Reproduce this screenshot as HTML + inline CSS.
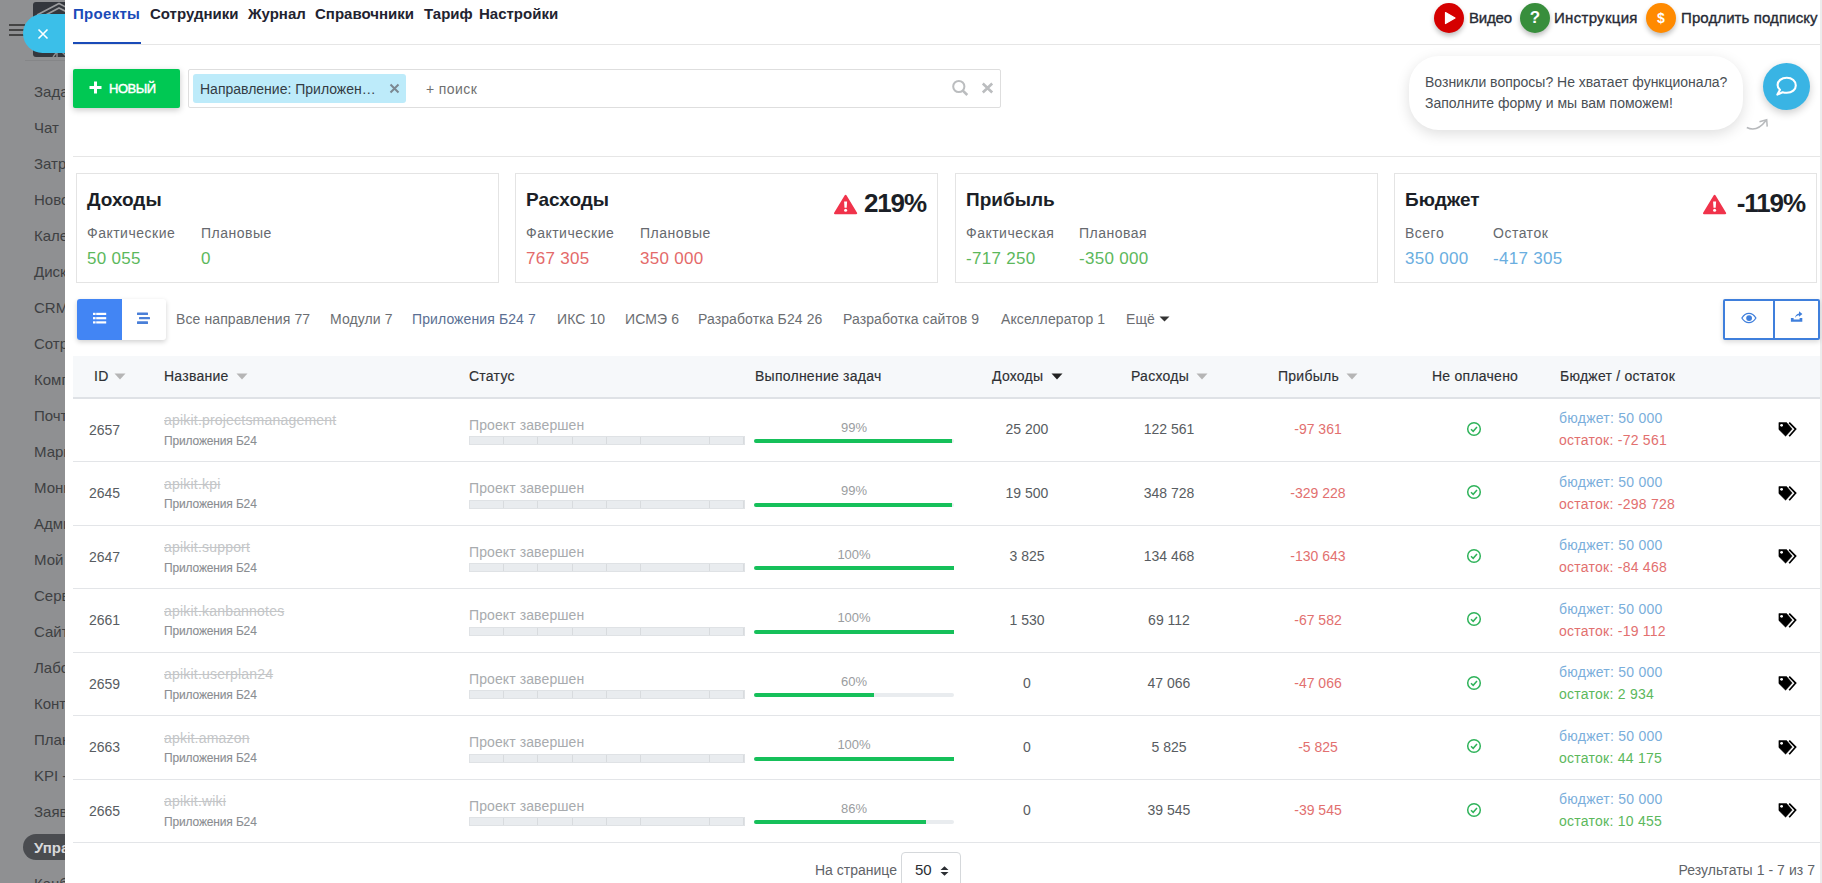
<!DOCTYPE html>
<html><head><meta charset="utf-8">
<style>
*{box-sizing:border-box;margin:0;padding:0}
html,body{width:1822px;height:883px;overflow:hidden;background:#fff;font-family:"Liberation Sans",sans-serif;color:#333}
.abs{position:absolute}
#side{position:absolute;left:0;top:0;width:65px;height:883px;background:#8f9092;overflow:hidden}
#side .it{position:absolute;margin-top:1px;left:34px;font-size:15px;color:#3e4042;white-space:nowrap;line-height:18px}
#panel{position:absolute;left:65px;top:0;width:1757px;height:883px;background:#fff}
#rstrip{position:absolute;left:1820px;top:0;width:2px;height:883px;background:#eceded}
.hr{position:absolute;top:8.5px;font-size:15px;-webkit-text-stroke:0.35px #262a35;color:#262a35;white-space:nowrap;line-height:18px}
.card{position:absolute;top:173px;width:423px;height:110px;border:1px solid #e4e4e4;background:#fff}
.ct{position:absolute;top:189px;font-size:19px;font-weight:bold;color:#1b1f27;line-height:22px;white-space:nowrap}
.cl{position:absolute;top:225px;font-size:14px;color:#66696e;line-height:17px;letter-spacing:0.5px;white-space:nowrap}
.cv{position:absolute;top:249px;font-size:17px;line-height:20px;letter-spacing:0.3px;white-space:nowrap}
.cp{position:absolute;top:189px;font-size:26px;font-weight:bold;color:#1b1f27;line-height:29px;letter-spacing:-1.1px;white-space:nowrap}
.tab{position:absolute;top:311px;font-size:14px;color:#6b6e72;line-height:17px;white-space:nowrap;letter-spacing:0.1px}
.th{position:absolute;top:368px;font-size:14px;color:#2e3034;line-height:17px;white-space:nowrap;-webkit-text-stroke:0.15px #2e3034;letter-spacing:0.25px}
.td{position:absolute;font-size:14px;color:#585c61;line-height:17px;white-space:nowrap}
.nm{position:absolute;margin-top:-1px;font-size:14px;color:#c4c6c8;letter-spacing:0.2px;line-height:17px;white-space:nowrap;text-decoration:line-through}
.ap{position:absolute;font-size:12px;color:#8a8d91;line-height:14px;white-space:nowrap;-webkit-text-stroke:0.1px #8a8d91;letter-spacing:-0.15px}
.st{position:absolute;font-size:14px;color:#a8abae;margin-top:-1px;line-height:17px;white-space:nowrap;letter-spacing:0.1px}
.sb{position:absolute;left:469px;width:276px;height:9px;border:1px solid #dfe2e5;background:repeating-linear-gradient(90deg,#e9ecef 0,#e9ecef 33.25px,#d8dbde 33.25px,#d8dbde 34.25px)}
.pc{position:absolute;left:754px;width:200px;text-align:center;font-size:13px;color:#9a9da0;line-height:16px}
.pb0{position:absolute;left:754px;width:200px;height:4px;border-radius:2px;background:#e9ecef}
.pb{position:absolute;left:754px;height:4px;border-radius:2px 0 0 2px;background:#16c05a}
.vc{position:absolute;width:100px;text-align:center;font-size:14px;color:#585c61;line-height:17px;white-space:nowrap}
.bd{position:absolute;left:1559px;font-size:14px;line-height:17px;white-space:nowrap;letter-spacing:0.25px}
.nav{position:absolute;top:4px;font-size:15px;font-weight:bold;color:#222330;white-space:nowrap;line-height:20px}
</style></head>
<body>
<div id="side">
  <div class="abs" style="left:33px;top:2px;width:40px;height:55px;background:#34373d;border-radius:3px"></div>
  <svg class="abs" style="left:33px;top:2px" width="32" height="56" viewBox="0 0 32 56"><path d="M4 13L26 1.5L40 9M6 16.5L26 6L40 13" fill="none" stroke="#9a9b9d" stroke-width="1.6"/><path d="M20 55L26 47L34 55M24 55V50" fill="none" stroke="#8d8e90" stroke-width="1.4"/></svg>
<div class="abs" style="left:9px;top:24px;width:16px;height:2px;background:#444"></div>
  <div class="abs" style="left:9px;top:29px;width:16px;height:2px;background:#444"></div>
  <div class="abs" style="left:9px;top:34px;width:16px;height:2px;background:#444"></div>
  <div class="abs" style="left:25px;top:60px;width:40px;height:1px;background:#858688"></div>
  <div class="it" style="top:82px">Задачи</div>
  <div class="it" style="top:118px">Чат</div>
  <div class="it" style="top:154px">Затраты</div>
  <div class="it" style="top:190px">Новости</div>
  <div class="it" style="top:226px">Календарь</div>
  <div class="it" style="top:262px">Диск</div>
  <div class="it" style="top:298px">CRM</div>
  <div class="it" style="top:334px">Сотрудники</div>
  <div class="it" style="top:370px">Компания</div>
  <div class="it" style="top:406px">Почта</div>
  <div class="it" style="top:442px">Маркетинг</div>
  <div class="it" style="top:478px">Мониторинг</div>
  <div class="it" style="top:514px">Администратор</div>
  <div class="it" style="top:550px">Мой</div>
  <div class="it" style="top:586px">Сервисы</div>
  <div class="it" style="top:622px">Сайты</div>
  <div class="it" style="top:658px">Лаборатория</div>
  <div class="it" style="top:694px">Контроль</div>
  <div class="it" style="top:730px">Планы</div>
  <div class="it" style="top:766px">KPI - </div>
  <div class="it" style="top:802px">Заявки</div>
  <div class="abs" style="left:23px;top:834px;width:60px;height:26px;border-radius:13px;background:#4a4c50"></div>
  <div class="it" style="top:838px;color:#d8d8da;font-weight:bold">Управление</div>
  <div class="it" style="top:874px">Канбан</div>
</div>
<div class="abs" style="left:23px;top:14px;width:50px;height:39px;border-radius:20px 0 0 20px;background:#3bbfe9"></div>
<svg class="abs" style="left:37px;top:28px" width="12" height="12" viewBox="0 0 12 12"><path d="M1.5 1.5L10.5 10.5M10.5 1.5L1.5 10.5" stroke="#fff" stroke-width="1.6"/></svg>
<div id="panel"></div>
<div id="rstrip"></div>

<!-- header nav -->
<div class="nav" style="left:73px;color:#1a4bb8;letter-spacing:0.3px">Проекты</div>
<div class="nav" style="left:150px">Сотрудники</div>
<div class="nav" style="left:248px">Журнал</div>
<div class="nav" style="left:315px">Справочники</div>
<div class="nav" style="left:424px">Тариф</div>
<div class="nav" style="left:479px">Настройки</div>
<div class="abs" style="left:73px;top:44px;width:1747px;height:1px;background:#e6e6e6"></div>
<div class="abs" style="left:73px;top:42px;width:68px;height:2px;background:#1a4bb8"></div>


<!-- header right -->
<div class="abs" style="left:1434px;top:3px;width:30px;height:30px;border-radius:15px;background:#d50000;box-shadow:0 3px 5px rgba(0,0,0,.25)"></div>
<svg class="abs" style="left:1443px;top:11px" width="14" height="14" viewBox="0 0 14 14"><path d="M2.5 1.5L12 7L2.5 12.5Z" fill="#fff" stroke="#fff" stroke-width="1.2" stroke-linejoin="round"/></svg>
<div class="hr" style="left:1469px;letter-spacing:-0.2px">Видео</div>
<div class="abs" style="left:1520px;top:3px;width:30px;height:30px;border-radius:15px;background:#388e3c;box-shadow:0 3px 5px rgba(0,0,0,.25)"></div>
<div class="abs" style="left:1520px;top:7.5px;width:30px;text-align:center;font-size:17px;font-weight:bold;color:#fff;line-height:20px">?</div>
<div class="hr" style="left:1554px;letter-spacing:0.3px">Инструкция</div>
<div class="abs" style="left:1646px;top:3px;width:30px;height:30px;border-radius:15px;background:#ff8a00;box-shadow:0 3px 5px rgba(0,0,0,.25)"></div>
<div class="abs" style="left:1646px;top:9px;width:30px;text-align:center;font-size:14px;font-weight:bold;color:#fff;line-height:18px">$</div>
<div class="hr" style="left:1681px;letter-spacing:0.1px">Продлить подписку</div>

<!-- toolbar -->
<div class="abs" style="left:73px;top:69px;width:107px;height:39px;border-radius:2px;background:#00c853;box-shadow:0 2px 6px rgba(0,0,0,.22)"></div>
<svg class="abs" style="left:89px;top:81px" width="13" height="13" viewBox="0 0 13 13"><path d="M6.5 0.5V12.5M0.5 6.5H12.5" stroke="#fff" stroke-width="3"/></svg>
<div class="abs" style="left:109px;top:81px;font-size:13px;-webkit-text-stroke:0.45px #fff;color:#fff;line-height:16px;letter-spacing:-0.5px">НОВЫЙ</div>
<div class="abs" style="left:188px;top:69px;width:813px;height:39px;border:1px solid #dedede;border-radius:2px;background:#fff"></div>
<div class="abs" style="left:193px;top:74px;width:213px;height:29px;border-radius:3px;background:#bdebfa"></div>
<div class="abs" style="left:200px;top:81px;font-size:14px;color:#333b44;line-height:17px;white-space:nowrap">Направление: Приложен…</div>
<svg class="abs" style="left:389px;top:83px" width="11" height="11" viewBox="0 0 11 11"><path d="M1.5 1.5L9.5 9.5M9.5 1.5L1.5 9.5" stroke="#7b8891" stroke-width="2"/></svg>
<div class="abs" style="left:426px;top:81px;letter-spacing:0.4px;font-size:14px;color:#707070;line-height:17px;white-space:nowrap">+ поиск</div>
<svg class="abs" style="left:950px;top:78px" width="20" height="20" viewBox="0 0 20 20"><circle cx="8.8" cy="8.5" r="5.6" fill="none" stroke="#bbbdbf" stroke-width="2"/><path d="M12.8 12.6L17.3 17" stroke="#bbbdbf" stroke-width="2.6"/></svg>
<svg class="abs" style="left:981px;top:82px" width="13" height="12" viewBox="0 0 13 12"><path d="M1.8 1.5L11.2 10.5M11.2 1.5L1.8 10.5" stroke="#bbbdbf" stroke-width="2.6"/></svg>

<!-- chat bubble -->
<div class="abs" style="left:1409px;top:56px;width:334px;height:74px;border-radius:30px;background:#fff;box-shadow:0 4px 14px rgba(0,0,0,.13)"></div>
<div class="abs" style="left:1425px;top:72px;font-size:14px;color:#4a4f55;line-height:21px;white-space:nowrap">Возникли вопросы? Не хватает функционала?<br>Заполните форму и мы вам поможем!</div>
<div class="abs" style="left:1763px;top:63px;width:47px;height:47px;border-radius:24px;background:#39b4e4;box-shadow:0 3px 8px rgba(0,0,0,.2)"></div>
<svg class="abs" style="left:1774px;top:74px" width="25" height="25" viewBox="0 0 25 25"><path d="M12.8 3.8C7.4 3.8 3.6 7 3.6 11c0 2 .9 3.6 2.4 4.8L3.4 20.6l5.2-2.4c1.3.4 2.7.6 4.2.6 5.3 0 9-3.2 9-7.4S18.1 3.8 12.8 3.8z" fill="none" stroke="#fff" stroke-width="2.1" stroke-linejoin="round"/></svg>
<svg class="abs" style="left:1745px;top:117px" width="26" height="15" viewBox="0 0 26 15"><path d="M1.8 10.5C8 13.5 15 11.5 21 3.5" fill="none" stroke="#b7b9bc" stroke-width="1.5"/><path d="M14.5 4.8L21.7 2.8L22.2 9.6" fill="none" stroke="#b7b9bc" stroke-width="1.5"/></svg>

<div class="abs" style="left:73px;top:156px;width:1747px;height:1px;background:#e6e6e6"></div>

<!-- cards -->
<div class="card" style="left:76px"></div>
<div class="ct" style="left:87px">Доходы</div>
<div class="cl" style="left:87px">Фактические</div>
<div class="cv" style="left:87px;color:#5cb85c">50 055</div>
<div class="cl" style="left:201px">Плановые</div>
<div class="cv" style="left:201px;color:#5cb85c">0</div>
<div class="card" style="left:515px"></div>
<div class="ct" style="left:526px">Расходы</div>
<div class="cl" style="left:526px">Фактические</div>
<div class="cv" style="left:526px;color:#e46a6a">767 305</div>
<div class="cl" style="left:640px">Плановые</div>
<div class="cv" style="left:640px;color:#e46a6a">350 000</div>
<div class="cp" style="right:896px">219%</div>
<svg class="abs warn" style="left:834px;top:194px" width="24" height="21" viewBox="0 0 24 21"><path d="M11.6 1.8L22.2 19.2H1Z" fill="#f0334b" stroke="#f0334b" stroke-width="2" stroke-linejoin="round"/><path d="M10.1 7.4H13.1L12.7 13.8H10.5Z" fill="#fff"/><circle cx="11.6" cy="16.3" r="1.5" fill="#fff"/></svg>
<div class="card" style="left:955px"></div>
<div class="ct" style="left:966px">Прибыль</div>
<div class="cl" style="left:966px">Фактическая</div>
<div class="cv" style="left:966px;color:#5cb85c">-717 250</div>
<div class="cl" style="left:1079px">Плановая</div>
<div class="cv" style="left:1079px;color:#5cb85c">-350 000</div>
<div class="card" style="left:1394px"></div>
<div class="ct" style="left:1405px">Бюджет</div>
<div class="cl" style="left:1405px">Всего</div>
<div class="cv" style="left:1405px;color:#6aaee0">350 000</div>
<div class="cl" style="left:1493px">Остаток</div>
<div class="cv" style="left:1493px;color:#6aaee0">-417 305</div>
<div class="cp" style="right:17px">-119%</div>
<svg class="abs warn" style="left:1703px;top:194px" width="24" height="21" viewBox="0 0 24 21"><path d="M11.6 1.8L22.2 19.2H1Z" fill="#f0334b" stroke="#f0334b" stroke-width="2" stroke-linejoin="round"/><path d="M10.1 7.4H13.1L12.7 13.8H10.5Z" fill="#fff"/><circle cx="11.6" cy="16.3" r="1.5" fill="#fff"/></svg>

<!-- view toggles -->
<div class="abs" style="left:77px;top:299px;width:89px;height:41px;border-radius:3px;background:#fff;box-shadow:0 2px 5px rgba(0,0,0,.18)"></div>
<div class="abs" style="left:77px;top:299px;width:45px;height:41px;border-radius:3px 0 0 3px;background:#4285f4"></div>
<svg class="abs" style="left:93px;top:312px" width="14" height="12" viewBox="0 0 14 12"><g fill="#fff"><rect x="0" y="0.8" width="2.6" height="2.2"/><rect x="3.2" y="0.8" width="10" height="2.2"/><rect x="0" y="5.1" width="2.6" height="2.2"/><rect x="3.2" y="5.1" width="10" height="2.2"/><rect x="0" y="9.3" width="2.6" height="2.2"/><rect x="3.2" y="9.3" width="10" height="2.2"/></g></svg>
<svg class="abs" style="left:136px;top:312px" width="15" height="12" viewBox="0 0 15 12"><g fill="#4a7fd8"><rect x="1" y="0.4" width="11" height="2.6" rx="0.5"/><rect x="3" y="5.1" width="11" height="2.2" rx="0.5"/><rect x="1" y="9.3" width="11" height="2.6" rx="0.5"/></g></svg>

<!-- filter tabs -->
<div class="tab" style="left:176px">Все направления 77</div>
<div class="tab" style="left:330px">Модули 7</div>
<div class="tab" style="left:412px;color:#5b6f93">Приложения Б24 7</div>
<div class="tab" style="left:557px">ИКС 10</div>
<div class="tab" style="left:625px">ИСМЭ 6</div>
<div class="tab" style="left:698px">Разработка Б24 26</div>
<div class="tab" style="left:843px">Разработка сайтов 9</div>
<div class="tab" style="left:1001px">Акселлератор 1</div>
<div class="tab" style="left:1126px">Ещё</div>
<svg class="abs" style="left:1159px;top:316px" width="11" height="6" viewBox="0 0 11 6"><path d="M0.5 0.5H10.5L5.5 5.5Z" fill="#333"/></svg>

<!-- eye / export -->
<div class="abs" style="left:1723px;top:299px;width:97px;height:41px;border:2px solid #3f7fdc;border-radius:2px;background:#fff;box-shadow:0 2px 5px rgba(0,0,0,.15)"></div>
<div class="abs" style="left:1772.5px;top:299px;width:2px;height:41px;background:#3f7fdc"></div>
<svg class="abs" style="left:1740px;top:311px" width="18" height="14" viewBox="0 0 18 14"><path d="M1.9 7C3.8 3.8 6 2.3 8.9 2.3S14 3.8 15.9 7C14 10.2 11.8 11.7 8.9 11.7S3.8 10.2 1.9 7Z" fill="none" stroke="#3f7fdc" stroke-width="1.3"/><circle cx="9.1" cy="7.1" r="2.9" fill="#3f7fdc"/></svg>
<svg class="abs" style="left:1790px;top:311px" width="14" height="12" viewBox="0 0 14 12"><path d="M0.9 7H3.6V8.4H9.6V7H12.3V10.7H0.9Z" fill="#3f7fdc"/><path d="M5 7C5.2 4.6 6.8 2.8 9 2.6V0.3L12.4 3L9 5.8V4.3C7.3 4.4 5.9 5.3 5 7Z" fill="#3f7fdc"/></svg>

<!-- table header -->
<div class="abs" style="left:73px;top:356px;width:1747px;height:41px;background:#f6f8fa"></div>
<div class="abs" style="left:73px;top:397px;width:1747px;height:2px;background:#dfe2e6"></div>
<div class="th" style="left:94px">ID</div>
<div class="th" style="left:164px">Название</div>
<div class="th" style="left:469px">Статус</div>
<div class="th" style="left:755px">Выполнение задач</div>
<div class="th" style="left:992px">Доходы</div>
<div class="th" style="left:1131px">Расходы</div>
<div class="th" style="left:1278px">Прибыль</div>
<div class="th" style="left:1432px">Не оплачено</div>
<div class="th" style="left:1560px">Бюджет / остаток</div>
<svg class="abs" style="left:114px;top:373px" width="12" height="7" viewBox="0 0 12 7"><path d="M0.5 0.5H11.5L6 6.5Z" fill="#b5b5b5"/></svg>
<svg class="abs" style="left:236px;top:373px" width="12" height="7" viewBox="0 0 12 7"><path d="M0.5 0.5H11.5L6 6.5Z" fill="#b5b5b5"/></svg>
<svg class="abs" style="left:1051px;top:373px" width="12" height="7" viewBox="0 0 12 7"><path d="M0.5 0.5H11.5L6 6.5Z" fill="#222"/></svg>
<svg class="abs" style="left:1196px;top:373px" width="12" height="7" viewBox="0 0 12 7"><path d="M0.5 0.5H11.5L6 6.5Z" fill="#b5b5b5"/></svg>
<svg class="abs" style="left:1346px;top:373px" width="12" height="7" viewBox="0 0 12 7"><path d="M0.5 0.5H11.5L6 6.5Z" fill="#b5b5b5"/></svg>

<!-- rows -->
<div class="abs" style="left:73px;top:461px;width:1747px;height:1px;background:#e3e5e8"></div>
<div class="td" style="left:89px;top:421.5px">2657</div>
<div class="nm" style="left:164px;top:413.0px">apikit.projectsmanagement</div>
<div class="ap" style="left:164px;top:433.5px">Приложения Б24</div>
<div class="st" style="left:469px;top:417.5px">Проект завершен</div>
<div class="sb" style="top:436.0px"></div>
<div class="pc" style="top:419.5px">99%</div>
<div class="pb0" style="top:439.0px"></div>
<div class="pb" style="top:439.0px;width:198px"></div>
<div class="vc" style="left:977px;top:421.0px">25 200</div>
<div class="vc" style="left:1119px;top:421.0px">122 561</div>
<div class="vc" style="left:1268px;top:421.0px;color:#e2706f">-97 361</div>
<svg class="abs" style="left:1466px;top:420.5px" width="16" height="16" viewBox="0 0 16 16"><circle cx="8" cy="8" r="6.3" fill="none" stroke="#2fb35a" stroke-width="1.5"/><path d="M5 8.2L7.2 10.3L11 6" fill="none" stroke="#2fb35a" stroke-width="1.5"/></svg>
<div class="bd" style="top:410.0px;color:#7aaedb">бюджет: 50 000</div>
<div class="bd" style="top:432.0px;color:#e2706f">остаток: -72 561</div>
<svg class="abs" style="left:1778px;top:421.3px" width="19" height="16" viewBox="0 0 19 16"><path d="M0.9 1.6H8.6L14.1 8.1L7.6 15.2L0.9 8.5Z" fill="#000" stroke="#000" stroke-width="0.5" stroke-linejoin="round"/><circle cx="3.6" cy="4.3" r="1.4" fill="#fff"/><path d="M11.2 1.6L17.6 8.1L11.2 15.2" fill="none" stroke="#000" stroke-width="1.7"/></svg>
<div class="abs" style="left:73px;top:525px;width:1747px;height:1px;background:#e3e5e8"></div>
<div class="td" style="left:89px;top:485.0px">2645</div>
<div class="nm" style="left:164px;top:476.5px">apikit.kpi</div>
<div class="ap" style="left:164px;top:497.0px">Приложения Б24</div>
<div class="st" style="left:469px;top:481.0px">Проект завершен</div>
<div class="sb" style="top:499.5px"></div>
<div class="pc" style="top:483.0px">99%</div>
<div class="pb0" style="top:502.5px"></div>
<div class="pb" style="top:502.5px;width:198px"></div>
<div class="vc" style="left:977px;top:484.5px">19 500</div>
<div class="vc" style="left:1119px;top:484.5px">348 728</div>
<div class="vc" style="left:1268px;top:484.5px;color:#e2706f">-329 228</div>
<svg class="abs" style="left:1466px;top:484.0px" width="16" height="16" viewBox="0 0 16 16"><circle cx="8" cy="8" r="6.3" fill="none" stroke="#2fb35a" stroke-width="1.5"/><path d="M5 8.2L7.2 10.3L11 6" fill="none" stroke="#2fb35a" stroke-width="1.5"/></svg>
<div class="bd" style="top:473.5px;color:#7aaedb">бюджет: 50 000</div>
<div class="bd" style="top:495.5px;color:#e2706f">остаток: -298 728</div>
<svg class="abs" style="left:1778px;top:484.8px" width="19" height="16" viewBox="0 0 19 16"><path d="M0.9 1.6H8.6L14.1 8.1L7.6 15.2L0.9 8.5Z" fill="#000" stroke="#000" stroke-width="0.5" stroke-linejoin="round"/><circle cx="3.6" cy="4.3" r="1.4" fill="#fff"/><path d="M11.2 1.6L17.6 8.1L11.2 15.2" fill="none" stroke="#000" stroke-width="1.7"/></svg>
<div class="abs" style="left:73px;top:588px;width:1747px;height:1px;background:#e3e5e8"></div>
<div class="td" style="left:89px;top:548.5px">2647</div>
<div class="nm" style="left:164px;top:540.0px">apikit.support</div>
<div class="ap" style="left:164px;top:560.5px">Приложения Б24</div>
<div class="st" style="left:469px;top:544.5px">Проект завершен</div>
<div class="sb" style="top:563.0px"></div>
<div class="pc" style="top:546.5px">100%</div>
<div class="pb" style="top:566.0px;width:200px"></div>
<div class="vc" style="left:977px;top:548.0px">3 825</div>
<div class="vc" style="left:1119px;top:548.0px">134 468</div>
<div class="vc" style="left:1268px;top:548.0px;color:#e2706f">-130 643</div>
<svg class="abs" style="left:1466px;top:547.5px" width="16" height="16" viewBox="0 0 16 16"><circle cx="8" cy="8" r="6.3" fill="none" stroke="#2fb35a" stroke-width="1.5"/><path d="M5 8.2L7.2 10.3L11 6" fill="none" stroke="#2fb35a" stroke-width="1.5"/></svg>
<div class="bd" style="top:537.0px;color:#7aaedb">бюджет: 50 000</div>
<div class="bd" style="top:559.0px;color:#e2706f">остаток: -84 468</div>
<svg class="abs" style="left:1778px;top:548.3px" width="19" height="16" viewBox="0 0 19 16"><path d="M0.9 1.6H8.6L14.1 8.1L7.6 15.2L0.9 8.5Z" fill="#000" stroke="#000" stroke-width="0.5" stroke-linejoin="round"/><circle cx="3.6" cy="4.3" r="1.4" fill="#fff"/><path d="M11.2 1.6L17.6 8.1L11.2 15.2" fill="none" stroke="#000" stroke-width="1.7"/></svg>
<div class="abs" style="left:73px;top:652px;width:1747px;height:1px;background:#e3e5e8"></div>
<div class="td" style="left:89px;top:612.0px">2661</div>
<div class="nm" style="left:164px;top:603.5px">apikit.kanbannotes</div>
<div class="ap" style="left:164px;top:624.0px">Приложения Б24</div>
<div class="st" style="left:469px;top:608.0px">Проект завершен</div>
<div class="sb" style="top:626.5px"></div>
<div class="pc" style="top:610.0px">100%</div>
<div class="pb" style="top:629.5px;width:200px"></div>
<div class="vc" style="left:977px;top:611.5px">1 530</div>
<div class="vc" style="left:1119px;top:611.5px">69 112</div>
<div class="vc" style="left:1268px;top:611.5px;color:#e2706f">-67 582</div>
<svg class="abs" style="left:1466px;top:611.0px" width="16" height="16" viewBox="0 0 16 16"><circle cx="8" cy="8" r="6.3" fill="none" stroke="#2fb35a" stroke-width="1.5"/><path d="M5 8.2L7.2 10.3L11 6" fill="none" stroke="#2fb35a" stroke-width="1.5"/></svg>
<div class="bd" style="top:600.5px;color:#7aaedb">бюджет: 50 000</div>
<div class="bd" style="top:622.5px;color:#e2706f">остаток: -19 112</div>
<svg class="abs" style="left:1778px;top:611.8px" width="19" height="16" viewBox="0 0 19 16"><path d="M0.9 1.6H8.6L14.1 8.1L7.6 15.2L0.9 8.5Z" fill="#000" stroke="#000" stroke-width="0.5" stroke-linejoin="round"/><circle cx="3.6" cy="4.3" r="1.4" fill="#fff"/><path d="M11.2 1.6L17.6 8.1L11.2 15.2" fill="none" stroke="#000" stroke-width="1.7"/></svg>
<div class="abs" style="left:73px;top:715px;width:1747px;height:1px;background:#e3e5e8"></div>
<div class="td" style="left:89px;top:675.5px">2659</div>
<div class="nm" style="left:164px;top:667.0px">apikit.userplan24</div>
<div class="ap" style="left:164px;top:687.5px">Приложения Б24</div>
<div class="st" style="left:469px;top:671.5px">Проект завершен</div>
<div class="sb" style="top:690.0px"></div>
<div class="pc" style="top:673.5px">60%</div>
<div class="pb0" style="top:693.0px"></div>
<div class="pb" style="top:693.0px;width:120px"></div>
<div class="vc" style="left:977px;top:675.0px">0</div>
<div class="vc" style="left:1119px;top:675.0px">47 066</div>
<div class="vc" style="left:1268px;top:675.0px;color:#e2706f">-47 066</div>
<svg class="abs" style="left:1466px;top:674.5px" width="16" height="16" viewBox="0 0 16 16"><circle cx="8" cy="8" r="6.3" fill="none" stroke="#2fb35a" stroke-width="1.5"/><path d="M5 8.2L7.2 10.3L11 6" fill="none" stroke="#2fb35a" stroke-width="1.5"/></svg>
<div class="bd" style="top:664.0px;color:#7aaedb">бюджет: 50 000</div>
<div class="bd" style="top:686.0px;color:#5cb85c">остаток: 2 934</div>
<svg class="abs" style="left:1778px;top:675.3px" width="19" height="16" viewBox="0 0 19 16"><path d="M0.9 1.6H8.6L14.1 8.1L7.6 15.2L0.9 8.5Z" fill="#000" stroke="#000" stroke-width="0.5" stroke-linejoin="round"/><circle cx="3.6" cy="4.3" r="1.4" fill="#fff"/><path d="M11.2 1.6L17.6 8.1L11.2 15.2" fill="none" stroke="#000" stroke-width="1.7"/></svg>
<div class="abs" style="left:73px;top:779px;width:1747px;height:1px;background:#e3e5e8"></div>
<div class="td" style="left:89px;top:739.0px">2663</div>
<div class="nm" style="left:164px;top:730.5px">apkit.amazon</div>
<div class="ap" style="left:164px;top:751.0px">Приложения Б24</div>
<div class="st" style="left:469px;top:735.0px">Проект завершен</div>
<div class="sb" style="top:753.5px"></div>
<div class="pc" style="top:737.0px">100%</div>
<div class="pb" style="top:756.5px;width:200px"></div>
<div class="vc" style="left:977px;top:738.5px">0</div>
<div class="vc" style="left:1119px;top:738.5px">5 825</div>
<div class="vc" style="left:1268px;top:738.5px;color:#e2706f">-5 825</div>
<svg class="abs" style="left:1466px;top:738.0px" width="16" height="16" viewBox="0 0 16 16"><circle cx="8" cy="8" r="6.3" fill="none" stroke="#2fb35a" stroke-width="1.5"/><path d="M5 8.2L7.2 10.3L11 6" fill="none" stroke="#2fb35a" stroke-width="1.5"/></svg>
<div class="bd" style="top:727.5px;color:#7aaedb">бюджет: 50 000</div>
<div class="bd" style="top:749.5px;color:#5cb85c">остаток: 44 175</div>
<svg class="abs" style="left:1778px;top:738.8px" width="19" height="16" viewBox="0 0 19 16"><path d="M0.9 1.6H8.6L14.1 8.1L7.6 15.2L0.9 8.5Z" fill="#000" stroke="#000" stroke-width="0.5" stroke-linejoin="round"/><circle cx="3.6" cy="4.3" r="1.4" fill="#fff"/><path d="M11.2 1.6L17.6 8.1L11.2 15.2" fill="none" stroke="#000" stroke-width="1.7"/></svg>
<div class="abs" style="left:73px;top:842px;width:1747px;height:1px;background:#e3e5e8"></div>
<div class="td" style="left:89px;top:802.5px">2665</div>
<div class="nm" style="left:164px;top:794.0px">apikit.wiki</div>
<div class="ap" style="left:164px;top:814.5px">Приложения Б24</div>
<div class="st" style="left:469px;top:798.5px">Проект завершен</div>
<div class="sb" style="top:817.0px"></div>
<div class="pc" style="top:800.5px">86%</div>
<div class="pb0" style="top:820.0px"></div>
<div class="pb" style="top:820.0px;width:172px"></div>
<div class="vc" style="left:977px;top:802.0px">0</div>
<div class="vc" style="left:1119px;top:802.0px">39 545</div>
<div class="vc" style="left:1268px;top:802.0px;color:#e2706f">-39 545</div>
<svg class="abs" style="left:1466px;top:801.5px" width="16" height="16" viewBox="0 0 16 16"><circle cx="8" cy="8" r="6.3" fill="none" stroke="#2fb35a" stroke-width="1.5"/><path d="M5 8.2L7.2 10.3L11 6" fill="none" stroke="#2fb35a" stroke-width="1.5"/></svg>
<div class="bd" style="top:791.0px;color:#7aaedb">бюджет: 50 000</div>
<div class="bd" style="top:813.0px;color:#5cb85c">остаток: 10 455</div>
<svg class="abs" style="left:1778px;top:802.3px" width="19" height="16" viewBox="0 0 19 16"><path d="M0.9 1.6H8.6L14.1 8.1L7.6 15.2L0.9 8.5Z" fill="#000" stroke="#000" stroke-width="0.5" stroke-linejoin="round"/><circle cx="3.6" cy="4.3" r="1.4" fill="#fff"/><path d="M11.2 1.6L17.6 8.1L11.2 15.2" fill="none" stroke="#000" stroke-width="1.7"/></svg>

<!-- pagination -->
<div class="abs" style="left:815px;top:862px;font-size:14px;color:#5f6368;line-height:17px;white-space:nowrap">На странице</div>
<div class="abs" style="left:901px;top:852px;width:60px;height:40px;border:1px solid #d5d8db;border-radius:4px;background:#fff"></div>
<div class="abs" style="left:915px;top:861px;font-size:15px;color:#2b2e33;line-height:18px">50</div>
<svg class="abs" style="left:940px;top:866px" width="9" height="10" viewBox="0 0 9 10"><path d="M0.5 4L4.5 0.3L8.5 4Z M0.5 6L4.5 9.7L8.5 6Z" fill="#2b2e33"/></svg>
<div class="abs" style="right:7px;top:862px;font-size:14px;letter-spacing:0.05px;color:#5f6368;line-height:17px;white-space:nowrap">Результаты 1 - 7 из 7</div>
</body></html>
